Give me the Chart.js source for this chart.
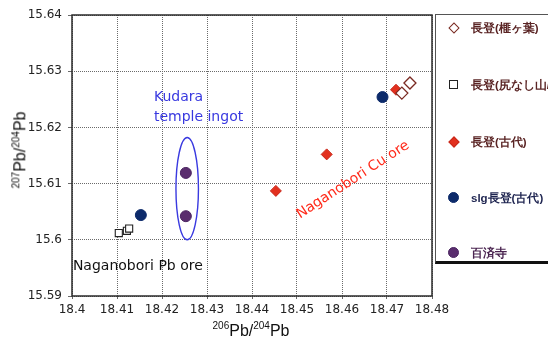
<!DOCTYPE html>
<html>
<head>
<meta charset="utf-8">
<script src="https://cdn.jsdelivr.net/npm/chart.js@4.4.0/dist/chart.umd.min.js"></script>
<style>
  html, body { margin: 0; padding: 0; background: #fff; }
  #wrap { position: relative; width: 548px; height: 342px; overflow: hidden; font-family: 'Liberation Sans', Arial, sans-serif; }
  #chart { position: absolute; left: 0; top: 0; }
  .ttl { position: absolute; color: #111; font-size: 16px; white-space: nowrap; }
  .ttl sup { font-size: 10px; }
  #ytitle { left: 20px; top: 150px; transform: translate(-50%, -50%) rotate(-90deg); }
  #xtitle { left: 251px; top: 330px; transform: translate(-50%, -50%); }
  #legend { position: absolute; left: 435px; top: 14px; width: 140px; height: 246px;
            border-top: 1px solid #555; border-left: 1px solid #555; border-bottom: 3px solid #111; }
  .item { position: absolute; left: 0; height: 16px; font-size: 11.5px; font-weight: bold; white-space: nowrap; }
  .item .mk { position: absolute; left: 13px; top: 3px; width: 9px; height: 9px; box-sizing: border-box; }
  .item .lb { position: absolute; left: 35px; top: 0; line-height: 16px; }
</style>
</head>
<body>
<div id="wrap">
  <canvas id="chart" width="548" height="342"></canvas>
  <div class="ttl" id="ytitle"><sup>207</sup>Pb/<sup>204</sup>Pb</div>
  <div class="ttl" id="xtitle"><sup>206</sup>Pb/<sup>204</sup>Pb</div>
  <div id="legend"></div>
</div>
<script>
'use strict';

// tick values
const xTickValues = [18.4, 18.41, 18.42, 18.43, 18.44, 18.45, 18.46, 18.47, 18.48];
const yTickValues = [15.59, 15.6, 15.61, 15.62, 15.63, 15.64];

// series: [206/204, 207/204]
const kayagaha = [[18.4751, 15.6279], [18.4733, 15.6261]];
const shirinashi = [[18.4104, 15.6012], [18.4122, 15.6016], [18.4127, 15.6020]];
const naganoboriKodai = [[18.4720, 15.6267], [18.4566, 15.6152], [18.4453, 15.6087]];
const slgKodai = [[18.4690, 15.6254], [18.4153, 15.6044]];
const kudara = [[18.4253, 15.6119], [18.4253, 15.6042]];

const seriesNames = ['長登(榧ヶ葉)', '長登(尻なし山/赤金)', '長登(古代)', 'slg長登(古代)', '百済寺'];

const toPts = arr => arr.map(p => ({ x: p[0], y: p[1] }));

const datasets = [
  { label: seriesNames[0], data: toPts(kayagaha), pointStyle: 'rectRot', pointRadius: 6,
    backgroundColor: '#ffffff', borderColor: '#7a2a22', borderWidth: 1.3 },
  { label: seriesNames[1], data: toPts(shirinashi), pointStyle: 'rect', pointRadius: 5,
    backgroundColor: '#ffffff', borderColor: '#222222', borderWidth: 1.1 },
  { label: seriesNames[2], data: toPts(naganoboriKodai), pointStyle: 'rectRot', pointRadius: 5.5,
    backgroundColor: '#e2301e', borderColor: '#c8281a', borderWidth: 1 },
  { label: seriesNames[3], data: toPts(slgKodai), pointStyle: 'circle', pointRadius: 5.5,
    backgroundColor: '#0c2a6a', borderColor: '#0c2a6a', borderWidth: 1 },
  { label: seriesNames[4], data: toPts(kudara), pointStyle: 'circle', pointRadius: 5.5,
    backgroundColor: '#5a2d6e', borderColor: '#4a2460', borderWidth: 1 }
];

// legend (html)
const legendColors = ['#5a2424', '#5a2424', '#5a2424', '#1e2450', '#4a2450'];
const legendY = [5, 62, 119, 175, 230];
const legendEl = document.getElementById('legend');
datasets.forEach((ds, i) => {
  const it = document.createElement('div');
  it.className = 'item';
  it.style.top = legendY[i] + 'px';
  const mk = document.createElement('div');
  mk.className = 'mk';
  if (i === 0 || i === 2) {
    mk.style.transform = 'rotate(45deg)';
    mk.style.width = '8px'; mk.style.height = '8px';
    mk.style.left = '14px'; mk.style.top = '4px';
  }
  if (i >= 3) { mk.style.borderRadius = '50%'; mk.style.width = '11px'; mk.style.height = '11px'; mk.style.left = '12px'; mk.style.top = '2px'; }
  mk.style.background = ds.backgroundColor;
  mk.style.border = (i === 1 ? 1.3 : 1.5) + 'px solid ' + ds.borderColor;
  const lb = document.createElement('span');
  lb.className = 'lb';
  lb.style.color = legendColors[i];
  lb.textContent = ds.label;
  it.appendChild(mk); it.appendChild(lb);
  legendEl.appendChild(it);
});

// annotations drawn in data coordinates
const annotPlugin = {
  id: 'annot',
  beforeDatasetsDraw(chart) {
    const { ctx, chartArea: a } = chart;
    ctx.save();
    ctx.strokeStyle = '#2b2b2b';
    ctx.lineWidth = 1.5;
    ctx.strokeRect(a.left, a.top, a.right - a.left, a.bottom - a.top);
    ctx.restore();
  },
  afterDatasetsDraw(chart) {
    const { ctx, scales: { x, y } } = chart;
    ctx.save();
    // ellipse around Kudara points
    const cx = x.getPixelForValue(18.4256), cy = y.getPixelForValue(15.6091);
    const rx = x.getPixelForValue(18.4256 + 0.0025) - cx;
    const ry = cy - y.getPixelForValue(15.6091 + 0.0091);
    ctx.beginPath();
    ctx.ellipse(cx, cy, rx, ry, 0, 0, Math.PI * 2);
    ctx.strokeStyle = '#3a3ae0';
    ctx.lineWidth = 1.4;
    ctx.stroke();

    ctx.font = '14px "DejaVu Sans", sans-serif';
    ctx.textBaseline = 'middle';
    ctx.fillStyle = '#3838e0';
    ctx.fillText('Kudara', x.getPixelForValue(18.4182), y.getPixelForValue(15.6254));
    ctx.fillText('temple ingot', x.getPixelForValue(18.4182), y.getPixelForValue(15.6218));

    ctx.fillStyle = '#111';
    ctx.fillText('Naganobori Pb ore', x.getPixelForValue(18.4002), y.getPixelForValue(15.5952));

    ctx.fillStyle = '#ff2a1a';
    ctx.translate(x.getPixelForValue(18.4502), y.getPixelForValue(15.6043));
    ctx.rotate(-33 * Math.PI / 180);
    ctx.fillText('Naganobori Cu ore', 0, 0);
    ctx.restore();
  }
};

const tickFont = { family: "'DejaVu Sans', sans-serif", size: 12 };

new Chart(document.getElementById('chart'), {
  type: 'scatter',
  data: { datasets },
  options: {
    responsive: false,
    animation: false,
    layout: { padding: { left: 0, right: 116, top: 15, bottom: 0 } },
    plugins: { legend: { display: false }, tooltip: { enabled: false } },
    scales: {
      x: {
        type: 'linear', min: 18.4, max: 18.48,
        afterBuildTicks: s => { s.ticks = xTickValues.map(v => ({ value: v })); },
        afterFit: s => { s.height = 46; },
        ticks: { color: '#222', font: tickFont, padding: 4, maxRotation: 0,
                 callback: v => String(+v.toFixed(2)) },
        grid: { color: '#6a6a6a', lineWidth: 1, tickLength: 3 },
        border: { display: false, dash: [1, 1] }
      },
      y: {
        type: 'linear', min: 15.59, max: 15.64,
        afterBuildTicks: s => { s.ticks = yTickValues.map(v => ({ value: v })); },
        afterFit: s => { s.width = 72; },
        ticks: { color: '#222', font: tickFont, padding: 6,
                 callback: v => String(+v.toFixed(2)) },
        grid: { color: '#6a6a6a', lineWidth: 1, tickLength: 4 },
        border: { display: false, dash: [1, 1] }
      }
    }
  },
  plugins: [annotPlugin]
});
</script>
</body>
</html>
